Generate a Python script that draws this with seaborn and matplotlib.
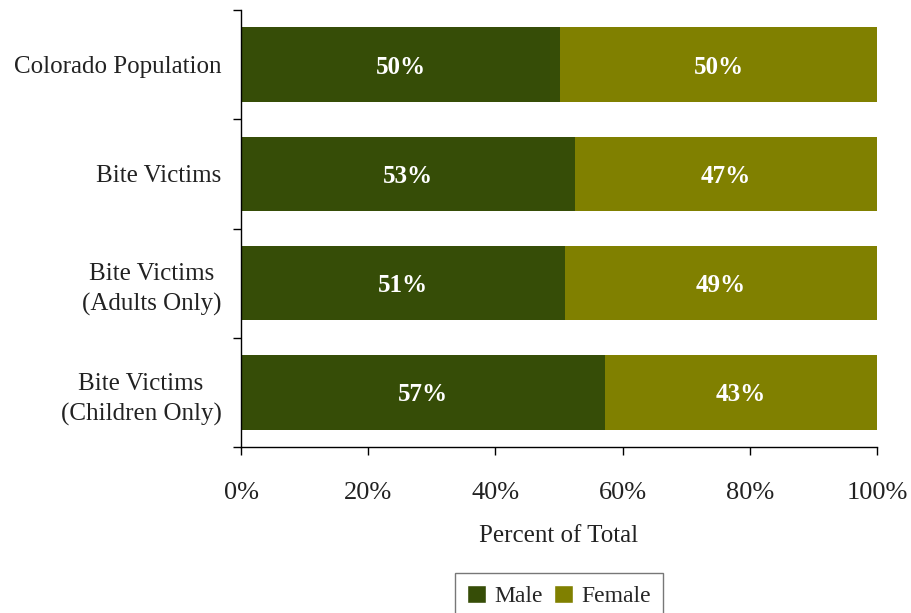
import matplotlib
matplotlib.use("Agg")
import matplotlib.pyplot as plt
import seaborn as sns
import pandas as pd
from matplotlib.patches import Patch
from matplotlib.ticker import FixedLocator

categories = ["Colorado Population", "Bite Victims", "Bite Victims\n(Adults Only)", "Bite Victims\n(Children Only)"]
male = [50.2, 52.5, 50.9, 57.2]
female = [49.8, 47.5, 49.1, 42.8]
male_labels = ["50%", "53%", "51%", "57%"]
female_labels = ["50%", "47%", "49%", "43%"]
xticks = [0, 20, 40, 60, 80, 100]
xtick_labels = ["0%", "20%", "40%", "60%", "80%", "100%"]

male_color = "#364d07"
female_color = "#808000"

sns.set_theme(style="white")
plt.rcParams["font.family"] = ["Liberation Serif", "DejaVu Serif"]

df = pd.DataFrame({"cat": categories, "male": male, "female": female})
df["total"] = df["male"] + df["female"]

fig = plt.figure(figsize=(9.11, 6.13), dpi=100)
ax = fig.add_axes([241 / 911, 1 - 447 / 613, (877 - 241) / 911, (447 - 10) / 613])

sns.barplot(data=df, x="total", y="cat", color=female_color, saturation=1, width=0.68,
            linewidth=0, edgecolor="none", ax=ax)
sns.barplot(data=df, x="male", y="cat", color=male_color, saturation=1, width=0.68,
            linewidth=0, edgecolor="none", ax=ax)

for i, (m, f) in enumerate(zip(male, female)):
    ax.text(m / 2, i, male_labels[i], ha="center", va="center_baseline", color="white",
            fontsize=18, fontweight="bold")
    ax.text(m + f / 2, i, female_labels[i], ha="center", va="center_baseline", color="white",
            fontsize=18, fontweight="bold")

ax.set_xlim(0, 100)
ax.set_ylim(3.5, -0.5)
ax.set_xticks(xticks)
ax.set_xticklabels(xtick_labels, fontsize=19, color="#222222")
ax.set_yticks(range(len(categories)))
ax.set_yticklabels(categories, fontsize=18, color="#222222", multialignment="center",
                   linespacing=1.45)
ax.yaxis.set_minor_locator(FixedLocator([-0.5, 0.5, 1.5, 2.5, 3.5]))
ax.tick_params(axis="y", which="major", length=0, pad=14)
ax.tick_params(axis="y", which="minor", length=6, width=1, direction="out", left=True, color="black")
ax.tick_params(axis="x", which="major", length=6, width=1, direction="out", bottom=True, color="black", pad=19)
ax.set_xlabel("Percent of Total", fontsize=18, color="#222222", labelpad=15)
ax.set_ylabel("")
for s in ["top", "right"]:
    ax.spines[s].set_visible(False)
for s in ["left", "bottom"]:
    ax.spines[s].set_color("black")
    ax.spines[s].set_linewidth(1)

handles = [Patch(facecolor=male_color, label="Male"), Patch(facecolor=female_color, label="Female")]
leg = fig.legend(handles=handles, loc="upper center", bbox_to_anchor=(559 / 911, 1 - 573 / 613),
                 ncol=2, frameon=True, fontsize=17, handlelength=0.8, handleheight=0.8,
                 handletextpad=0.35, columnspacing=0.5, borderpad=0.5, borderaxespad=0,
                 fancybox=False)
leg.get_frame().set_edgecolor("#555555")
leg.get_frame().set_linewidth(1)

fig.savefig("out.png", dpi=100)
